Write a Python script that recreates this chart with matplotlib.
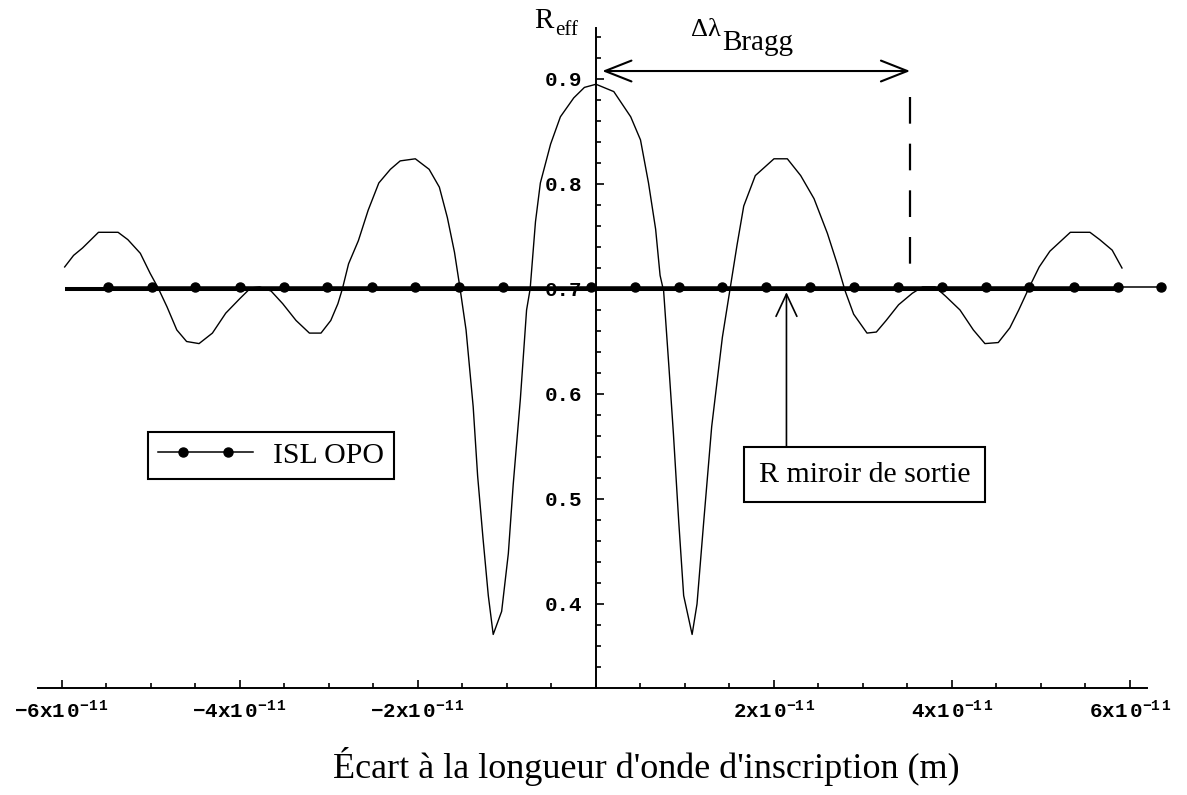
import matplotlib
matplotlib.use("Agg")
import matplotlib.pyplot as plt
import numpy as np
from matplotlib.legend_handler import HandlerLine2D, HandlerTuple
from matplotlib.lines import Line2D
from matplotlib.ticker import FixedLocator

plt.rcParams["mathtext.fontset"] = "custom"
plt.rcParams["mathtext.tt"] = "Liberation Mono:bold"
plt.rcParams["mathtext.rm"] = "Liberation Serif"
plt.rcParams["mathtext.it"] = "Liberation Serif"

SCALE = 1e-11  # x values below are in units of 1e-11 m

# -------- R_eff curve --------
curve_x = [-5.97, -5.87, -5.77, -5.59, -5.37, -5.26, -5.12, -5.01, -4.92, -4.82,
           -4.71, -4.60, -4.46, -4.31, -4.16, -4.00, -3.88, -3.78, -3.65, -3.52,
           -3.37, -3.22, -3.09, -2.98, -2.90, -2.85, -2.78, -2.67, -2.56, -2.44,
           -2.31, -2.20, -2.03, -1.875, -1.76, -1.67, -1.59, -1.53, -1.46, -1.38,
           -1.33, -1.27, -1.21, -1.155, -1.06, -0.985, -0.93, -0.85, -0.78, -0.74,
           -0.68, -0.625, -0.51, -0.40, -0.25, -0.13, 0.0, 0.20, 0.39, 0.50,
           0.59, 0.67, 0.72, 0.76, 0.82, 0.87, 0.93, 0.985, 1.08, 1.135,
           1.21, 1.30, 1.42, 1.51, 1.585, 1.66, 1.79, 2.0, 2.15, 2.30,
           2.45, 2.60, 2.71, 2.80, 2.895, 3.045, 3.15, 3.26, 3.40, 3.555,
           3.67, 3.81, 3.93, 4.09, 4.24, 4.37, 4.52, 4.65, 4.75, 4.87,
           4.98, 5.10, 5.33, 5.55, 5.66, 5.80, 5.91]
curve_r = [0.721, 0.732, 0.739, 0.754, 0.754, 0.747, 0.734, 0.715, 0.701, 0.683,
           0.661, 0.650, 0.648, 0.658, 0.677, 0.691, 0.701, 0.702, 0.698, 0.686,
           0.670, 0.658, 0.658, 0.670, 0.686, 0.700, 0.724, 0.746, 0.775, 0.801,
           0.814, 0.822, 0.824, 0.814, 0.797, 0.768, 0.735, 0.702, 0.661, 0.588,
           0.522, 0.463, 0.408, 0.371, 0.393, 0.448, 0.514, 0.595, 0.680, 0.700,
           0.764, 0.801, 0.838, 0.864, 0.882, 0.892, 0.895, 0.888, 0.864, 0.842,
           0.801, 0.757, 0.713, 0.698, 0.625, 0.562, 0.478, 0.408, 0.371, 0.400,
           0.478, 0.569, 0.654, 0.702, 0.742, 0.779, 0.808, 0.824, 0.824, 0.808,
           0.786, 0.753, 0.724, 0.698, 0.676, 0.658, 0.659, 0.670, 0.685, 0.696,
           0.702, 0.702, 0.693, 0.680, 0.661, 0.648, 0.649, 0.663, 0.680, 0.702,
           0.721, 0.736, 0.754, 0.754, 0.747, 0.737, 0.720]

# -------- ISL OPO comb --------
isl_x = [-5.48, -4.99, -4.50, -4.00, -3.51, -3.02, -2.52, -2.03, -1.54, -1.04,
         -0.06, 0.44, 0.93, 1.42, 1.91, 2.41, 2.90, 3.39, 3.89, 4.38,
         4.87, 5.37, 5.86, 6.35]
isl_r = 0.702

# -------- output mirror reflectivity --------
mirror_x = [-5.97, 5.91]
mirror_r = 0.70

# -------- annotations --------
bragg_x = [0.07, 3.53]
bragg_r = 0.9076
bragg_dash_r = [0.883, 0.716]
arrow_x = 2.14
arrow_r = [0.547, 0.697]

xtick_major = [-6, -4, -2, 2, 4, 6]
xtick_labels = [r"$\mathtt{-6x1\,0^{-1\,1}}$", r"$\mathtt{-4x1\,0^{-1\,1}}$",
                r"$\mathtt{-2x1\,0^{-1\,1}}$", r"$\mathtt{2x1\,0^{-1\,1}}$",
                r"$\mathtt{4x1\,0^{-1\,1}}$", r"$\mathtt{6x1\,0^{-1\,1}}$"]
ytick_major = [0.4, 0.5, 0.6, 0.7, 0.8, 0.9]
ytick_labels = ["0.4", "0.5", "0.6", "0.7", "0.8", "0.9"]

SERIF = "Liberation Serif"

fig = plt.figure(figsize=(11.87, 7.95), dpi=100)
ax = fig.add_axes([0.01474, 0.10818, 0.98222, 0.87170])
ax.set_xlim(-6.5 * SCALE, 6.6 * SCALE)
ax.set_ylim(0.30, 0.96)

cx = np.array(curve_x) * SCALE
ax.plot(cx, curve_r, color="black", lw=1.0, zorder=3)
ax.plot(np.array(mirror_x) * SCALE, [mirror_r] * 2, color="black", lw=2.9, zorder=3,
        solid_capstyle="butt")
ax.plot(np.array(isl_x) * SCALE, [isl_r] * len(isl_x), color="black", lw=1.1,
        marker="o", ms=6.5, zorder=4)

# axes through the origin, Mathematica style
for side in ["top", "right"]:
    ax.spines[side].set_visible(False)
ax.spines["left"].set_position(("data", 0))
ax.spines["bottom"].set_position(("data", 0.32))
ax.spines["left"].set_bounds(0.32, 0.949)
ax.spines["bottom"].set_bounds(-6.27 * SCALE, 6.19 * SCALE)
for side in ["left", "bottom"]:
    ax.spines[side].set_linewidth(1.4)

ax.xaxis.set_major_locator(FixedLocator(np.array(xtick_major) * SCALE))
ax.xaxis.set_minor_locator(FixedLocator(np.arange(-6, 6.01, 0.5) * SCALE))
ax.set_xticklabels(xtick_labels, fontsize=15)
ax.yaxis.set_major_locator(FixedLocator(ytick_major))
ax.yaxis.set_minor_locator(FixedLocator(np.arange(0.34, 0.95, 0.02)))
ax.set_yticklabels(ytick_labels, fontsize=15, family="Liberation Mono", weight="bold")
ax.tick_params(which="major", direction="in", length=6, width=1.2)
ax.tick_params(which="minor", direction="in", length=3.5, width=1.2)
ax.tick_params(axis="x", which="major", pad=8)
ax.tick_params(axis="y", which="major", pad=10)

# R_eff axis label
fig.text(554 / 1187, 1 - 28 / 795, "R", ha="right", va="baseline", family=SERIF, fontsize=21)
fig.text(555 / 1187, 1 - 35 / 795, "eff", ha="left", va="baseline", family=SERIF, fontsize=15)

# Bragg width
ax.annotate("", xy=(bragg_x[0] * SCALE, bragg_r), xytext=(bragg_x[1] * SCALE, bragg_r),
            arrowprops=dict(arrowstyle="<->,head_length=1.9,head_width=0.75", lw=1.5,
                            color="black", shrinkA=0, shrinkB=0))
ax.plot([bragg_x[1] * SCALE] * 2, bragg_dash_r, color="black", lw=1.6, dashes=(12, 9))
fig.text(721 / 1187, 1 - 36 / 795, "Δλ", ha="right", va="baseline", family=SERIF, fontsize=19)
fig.text(722 / 1187, 1 - 50 / 795, "Bragg", ha="left", va="baseline", family=SERIF, fontsize=21)

# output mirror annotation
ax.annotate("", xy=(arrow_x * SCALE, arrow_r[1]), xytext=(arrow_x * SCALE, arrow_r[0]),
            arrowprops=dict(arrowstyle="->,head_length=1.6,head_width=0.75", lw=1.2,
                            color="black", shrinkA=0, shrinkB=0), zorder=5)
ax.text(3.017 * SCALE, 0.5233, "R miroir de sortie", ha="center", va="center",
        family=SERIF, fontsize=21.5, zorder=6,
        bbox=dict(boxstyle="square,pad=0.5", fc="white", ec="black", lw=1.5))

# legend: full-length line with two dots inset
leg_line = Line2D([], [], color="black", lw=1.1)
leg_dots = Line2D([], [], color="black", ls="none", marker="o", ms=6.5)
leg = ax.legend(handles=[(leg_line, leg_dots)], labels=["ISL OPO"], loc="upper left",
                bbox_to_anchor=(148 / 1187, 1 - 432 / 795), bbox_transform=fig.transFigure,
                borderaxespad=0, fancybox=False, framealpha=1, edgecolor="black",
                prop={"family": SERIF, "size": 21.5}, handlelength=3.2, handletextpad=0.65,
                borderpad=0.33,
                handler_map={tuple: HandlerTuple(ndivide=1),
                             leg_line: HandlerLine2D(numpoints=1),
                             leg_dots: HandlerLine2D(numpoints=2, marker_pad=0.85)})
leg.get_frame().set_linewidth(1.5)

fig.text(646 / 1187, 1 - 766 / 795, "Écart à la longueur d'onde d'inscription (m)",
         ha="center", va="center", family=SERIF, fontsize=26)

fig.savefig("out.png", dpi=100, facecolor="white")
